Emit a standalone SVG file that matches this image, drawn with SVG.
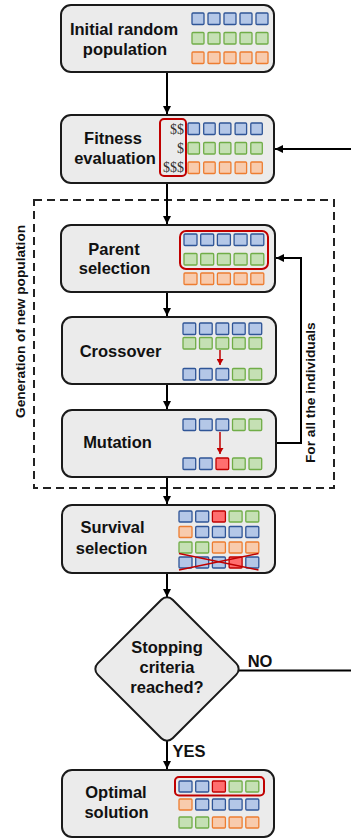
<svg xmlns="http://www.w3.org/2000/svg" width="351" height="838" viewBox="0 0 351 838">
<defs>
<marker id="ah" markerUnits="userSpaceOnUse" markerWidth="9" markerHeight="9" refX="8" refY="4.5" orient="auto"><path d="M0,0.5 L8,4.5 L0,8.5 z" fill="#000"/></marker>
<marker id="rah" markerUnits="userSpaceOnUse" markerWidth="7" markerHeight="7" refX="6" refY="3.5" orient="auto"><path d="M0,0 L6,3.5 L0,7 z" fill="#c00000"/></marker>
</defs>
<style>
.box{fill:#ebebeb;stroke:#1a1a1a;stroke-width:2}
.t{font-family:"Liberation Sans",Arial,sans-serif;font-weight:bold;font-size:16.5px;fill:#111;text-anchor:middle}
.rt{font-family:"Liberation Sans",Arial,sans-serif;font-weight:bold;font-size:13.7px;fill:#111}
.d{font-family:"Liberation Serif","Times New Roman",serif;font-size:14px;fill:#333;text-anchor:end}
.b{fill:#b4c7e7;stroke:#2f5597;stroke-width:1.3}
.g{fill:#c5e0b4;stroke:#70ad47;stroke-width:1.3}
.o{fill:#f8cbad;stroke:#ed7d31;stroke-width:1.3}
.r{fill:#ff6f6f;stroke:#c00000;stroke-width:1.3}
.sel{fill:none;stroke:#c00000;stroke-width:2}
.c{stroke:#000;stroke-width:2;fill:none}
.ra{stroke:#c00000;stroke-width:1.5;fill:none}
</style>

<g id="loop-frame">
<rect x="34" y="200" width="300" height="288" fill="none" stroke="#222" stroke-width="2" stroke-dasharray="8 5"/>
<text class="rt" transform="translate(24.5,418) rotate(-90)">Generation of new population</text>
<text class="rt" transform="translate(315,463) rotate(-90)">For all the individuals</text>
</g>

<g id="connectors">
<line class="c" x1="167" y1="72" x2="167" y2="114" marker-end="url(#ah)"/>
<line class="c" x1="351" y1="149" x2="275" y2="149" marker-end="url(#ah)"/>
<line class="c" x1="167" y1="183" x2="167" y2="224" marker-end="url(#ah)"/>
<line class="c" x1="167" y1="292" x2="167" y2="316" marker-end="url(#ah)"/>
<line class="c" x1="167" y1="384" x2="167" y2="409" marker-end="url(#ah)"/>
<line class="c" x1="167" y1="477" x2="167" y2="504" marker-end="url(#ah)"/>
<line class="c" x1="167" y1="573" x2="167" y2="597" marker-end="url(#ah)"/>
<line class="c" x1="167" y1="741" x2="167" y2="769" marker-end="url(#ah)"/>
<polyline class="c" points="276,443 301,443 301,258 276,258" marker-end="url(#ah)"/>
<line class="c" x1="238" y1="670.5" x2="351" y2="670.5"/>
<text class="t" x="260" y="667">NO</text>
<text class="t" x="189" y="757">YES</text>
</g>

<g id="initial">
<rect class="box" x="61" y="5" width="213" height="67" rx="10"/>
<text class="t" x="124" y="35">Initial random</text>
<text class="t" x="125" y="54.5">population</text>
<g>
<rect class="b" x="192" y="13" width="12" height="11.5" rx="1"/><rect class="b" x="208" y="13" width="12" height="11.5" rx="1"/><rect class="b" x="224" y="13" width="12" height="11.5" rx="1"/><rect class="b" x="240" y="13" width="12" height="11.5" rx="1"/><rect class="b" x="256" y="13" width="12" height="11.5" rx="1"/>
<rect class="g" x="192" y="32.5" width="12" height="11.5" rx="1"/><rect class="g" x="208" y="32.5" width="12" height="11.5" rx="1"/><rect class="g" x="224" y="32.5" width="12" height="11.5" rx="1"/><rect class="g" x="240" y="32.5" width="12" height="11.5" rx="1"/><rect class="g" x="256" y="32.5" width="12" height="11.5" rx="1"/>
<rect class="o" x="192" y="52" width="12" height="11.5" rx="1"/><rect class="o" x="208" y="52" width="12" height="11.5" rx="1"/><rect class="o" x="224" y="52" width="12" height="11.5" rx="1"/><rect class="o" x="240" y="52" width="12" height="11.5" rx="1"/><rect class="o" x="256" y="52" width="12" height="11.5" rx="1"/>
</g>
</g>

<g id="fitness">
<rect class="box" x="61" y="115" width="213" height="68" rx="10"/>
<text class="t" x="113" y="144.3">Fitness</text>
<text class="t" x="115" y="164.3">evaluation</text>
<rect class="sel" x="160" y="119" width="26" height="57" rx="4"/>
<text class="d" x="184" y="134">$$</text>
<text class="d" x="184" y="153">$</text>
<text class="d" x="184" y="172">$$$</text>
<g>
<rect class="b" x="188" y="123" width="11.5" height="11.5" rx="1"/><rect class="b" x="203.7" y="123" width="11.5" height="11.5" rx="1"/><rect class="b" x="219.4" y="123" width="11.5" height="11.5" rx="1"/><rect class="b" x="235.1" y="123" width="11.5" height="11.5" rx="1"/><rect class="b" x="250.8" y="123" width="11.5" height="11.5" rx="1"/>
<rect class="g" x="188" y="142.5" width="11.5" height="11.5" rx="1"/><rect class="g" x="203.7" y="142.5" width="11.5" height="11.5" rx="1"/><rect class="g" x="219.4" y="142.5" width="11.5" height="11.5" rx="1"/><rect class="g" x="235.1" y="142.5" width="11.5" height="11.5" rx="1"/><rect class="g" x="250.8" y="142.5" width="11.5" height="11.5" rx="1"/>
<rect class="o" x="188" y="162" width="11.5" height="11.5" rx="1"/><rect class="o" x="203.7" y="162" width="11.5" height="11.5" rx="1"/><rect class="o" x="219.4" y="162" width="11.5" height="11.5" rx="1"/><rect class="o" x="235.1" y="162" width="11.5" height="11.5" rx="1"/><rect class="o" x="250.8" y="162" width="11.5" height="11.5" rx="1"/>
</g>
</g>

<g id="parent">
<rect class="box" x="61" y="225" width="214" height="67" rx="10"/>
<text class="t" x="114" y="255">Parent</text>
<text class="t" x="114.5" y="274.3">selection</text>
<rect class="sel" x="180" y="231" width="88" height="38" rx="6"/>
<g>
<rect class="b" x="184" y="234" width="13" height="11.5" rx="1"/><rect class="b" x="200.7" y="234" width="13" height="11.5" rx="1"/><rect class="b" x="217.4" y="234" width="13" height="11.5" rx="1"/><rect class="b" x="234.1" y="234" width="13" height="11.5" rx="1"/><rect class="b" x="250.8" y="234" width="13" height="11.5" rx="1"/>
<rect class="g" x="184" y="253.5" width="13" height="11.5" rx="1"/><rect class="g" x="200.7" y="253.5" width="13" height="11.5" rx="1"/><rect class="g" x="217.4" y="253.5" width="13" height="11.5" rx="1"/><rect class="g" x="234.1" y="253.5" width="13" height="11.5" rx="1"/><rect class="g" x="250.8" y="253.5" width="13" height="11.5" rx="1"/>
<rect class="o" x="184" y="273" width="13" height="11.5" rx="1"/><rect class="o" x="200.7" y="273" width="13" height="11.5" rx="1"/><rect class="o" x="217.4" y="273" width="13" height="11.5" rx="1"/><rect class="o" x="234.1" y="273" width="13" height="11.5" rx="1"/><rect class="o" x="250.8" y="273" width="13" height="11.5" rx="1"/>
</g>
</g>

<g id="crossover">
<rect class="box" x="62" y="317" width="214" height="67" rx="10"/>
<text class="t" x="120.5" y="357">Crossover</text>
<g>
<rect class="b" x="183" y="323" width="12.7" height="11.5" rx="1"/><rect class="b" x="199.5" y="323" width="12.7" height="11.5" rx="1"/><rect class="b" x="216" y="323" width="12.7" height="11.5" rx="1"/><rect class="b" x="232.5" y="323" width="12.7" height="11.5" rx="1"/><rect class="b" x="249" y="323" width="12.7" height="11.5" rx="1"/>
<rect class="g" x="183" y="337.5" width="12.7" height="11.5" rx="1"/><rect class="g" x="199.5" y="337.5" width="12.7" height="11.5" rx="1"/><rect class="g" x="216" y="337.5" width="12.7" height="11.5" rx="1"/><rect class="g" x="232.5" y="337.5" width="12.7" height="11.5" rx="1"/><rect class="g" x="249" y="337.5" width="12.7" height="11.5" rx="1"/>
<rect class="b" x="183" y="368.5" width="12.7" height="11.5" rx="1"/><rect class="b" x="199.5" y="368.5" width="12.7" height="11.5" rx="1"/><rect class="b" x="216" y="368.5" width="12.7" height="11.5" rx="1"/><rect class="g" x="232.5" y="368.5" width="12.7" height="11.5" rx="1"/><rect class="g" x="249" y="368.5" width="12.7" height="11.5" rx="1"/>
</g>
<line class="ra" x1="220" y1="350" x2="220" y2="365" marker-end="url(#rah)"/>
</g>

<g id="mutation">
<rect class="box" x="62" y="410" width="214" height="67" rx="10"/>
<text class="t" x="117.5" y="448">Mutation</text>
<g>
<rect class="b" x="183" y="419" width="12.7" height="11.5" rx="1"/><rect class="b" x="199.5" y="419" width="12.7" height="11.5" rx="1"/><rect class="b" x="216" y="419" width="12.7" height="11.5" rx="1"/><rect class="g" x="232.5" y="419" width="12.7" height="11.5" rx="1"/><rect class="g" x="249" y="419" width="12.7" height="11.5" rx="1"/>
<rect class="b" x="183" y="458" width="12.7" height="11.5" rx="1"/><rect class="b" x="199.5" y="458" width="12.7" height="11.5" rx="1"/><rect class="r" x="216" y="458" width="12.7" height="11.5" rx="1"/><rect class="g" x="232.5" y="458" width="12.7" height="11.5" rx="1"/><rect class="g" x="249" y="458" width="12.7" height="11.5" rx="1"/>
</g>
<line class="ra" x1="220" y1="432" x2="220" y2="454" marker-end="url(#rah)"/>
</g>

<g id="survival">
<rect class="box" x="62" y="505" width="213" height="68" rx="10"/>
<text class="t" x="112.5" y="533">Survival</text>
<text class="t" x="111.5" y="554">selection</text>
<g>
<rect class="b" x="179" y="511" width="13" height="11" rx="1"/><rect class="b" x="195.7" y="511" width="13" height="11" rx="1"/><rect class="r" x="212.4" y="511" width="13" height="11" rx="1"/><rect class="g" x="229.1" y="511" width="13" height="11" rx="1"/><rect class="g" x="245.8" y="511" width="13" height="11" rx="1"/>
<rect class="o" x="179" y="526.5" width="13" height="11" rx="1"/><rect class="b" x="195.7" y="526.5" width="13" height="11" rx="1"/><rect class="b" x="212.4" y="526.5" width="13" height="11" rx="1"/><rect class="b" x="229.1" y="526.5" width="13" height="11" rx="1"/><rect class="b" x="245.8" y="526.5" width="13" height="11" rx="1"/>
<rect class="g" x="179" y="542" width="13" height="11" rx="1"/><rect class="g" x="195.7" y="542" width="13" height="11" rx="1"/><rect class="o" x="212.4" y="542" width="13" height="11" rx="1"/><rect class="o" x="229.1" y="542" width="13" height="11" rx="1"/><rect class="o" x="245.8" y="542" width="13" height="11" rx="1"/>
<rect class="b" x="179" y="557" width="13" height="11" rx="1"/><rect class="b" x="195.7" y="557" width="13" height="11" rx="1"/><rect class="b" x="212.4" y="557" width="13" height="11" rx="1"/><rect class="r" x="229.1" y="557" width="13" height="11" rx="1"/><rect class="b" x="245.8" y="557" width="13" height="11" rx="1"/>
</g>
<line x1="179" y1="553.5" x2="258.5" y2="570" stroke="#c00000" stroke-width="1.5"/>
<line x1="179" y1="570" x2="258.5" y2="553.5" stroke="#c00000" stroke-width="1.5"/>
</g>

<g id="decision">
<rect class="box" x="114" y="616" width="106" height="106" rx="8" transform="rotate(45 167 669)"/>
<text class="t" x="167" y="653">Stopping</text>
<text class="t" x="167" y="673">criteria</text>
<text class="t" x="167" y="693">reached?</text>
</g>

<g id="optimal">
<rect class="box" x="62" y="770" width="212" height="67" rx="10"/>
<text class="t" x="116" y="798">Optimal</text>
<text class="t" x="116.5" y="818">solution</text>
<rect class="sel" x="175" y="777" width="89" height="18.5" rx="4"/>
<g>
<rect class="b" x="179" y="781" width="13" height="11" rx="1"/><rect class="b" x="195.7" y="781" width="13" height="11" rx="1"/><rect class="r" x="212.4" y="781" width="13" height="11" rx="1"/><rect class="g" x="229.1" y="781" width="13" height="11" rx="1"/><rect class="g" x="245.8" y="781" width="13" height="11" rx="1"/>
<rect class="o" x="179" y="799" width="13" height="11" rx="1"/><rect class="b" x="195.7" y="799" width="13" height="11" rx="1"/><rect class="b" x="212.4" y="799" width="13" height="11" rx="1"/><rect class="b" x="229.1" y="799" width="13" height="11" rx="1"/><rect class="b" x="245.8" y="799" width="13" height="11" rx="1"/>
<rect class="g" x="179" y="817" width="13" height="11" rx="1"/><rect class="g" x="195.7" y="817" width="13" height="11" rx="1"/><rect class="o" x="212.4" y="817" width="13" height="11" rx="1"/><rect class="o" x="229.1" y="817" width="13" height="11" rx="1"/><rect class="o" x="245.8" y="817" width="13" height="11" rx="1"/>
</g>
</g>
</svg>
